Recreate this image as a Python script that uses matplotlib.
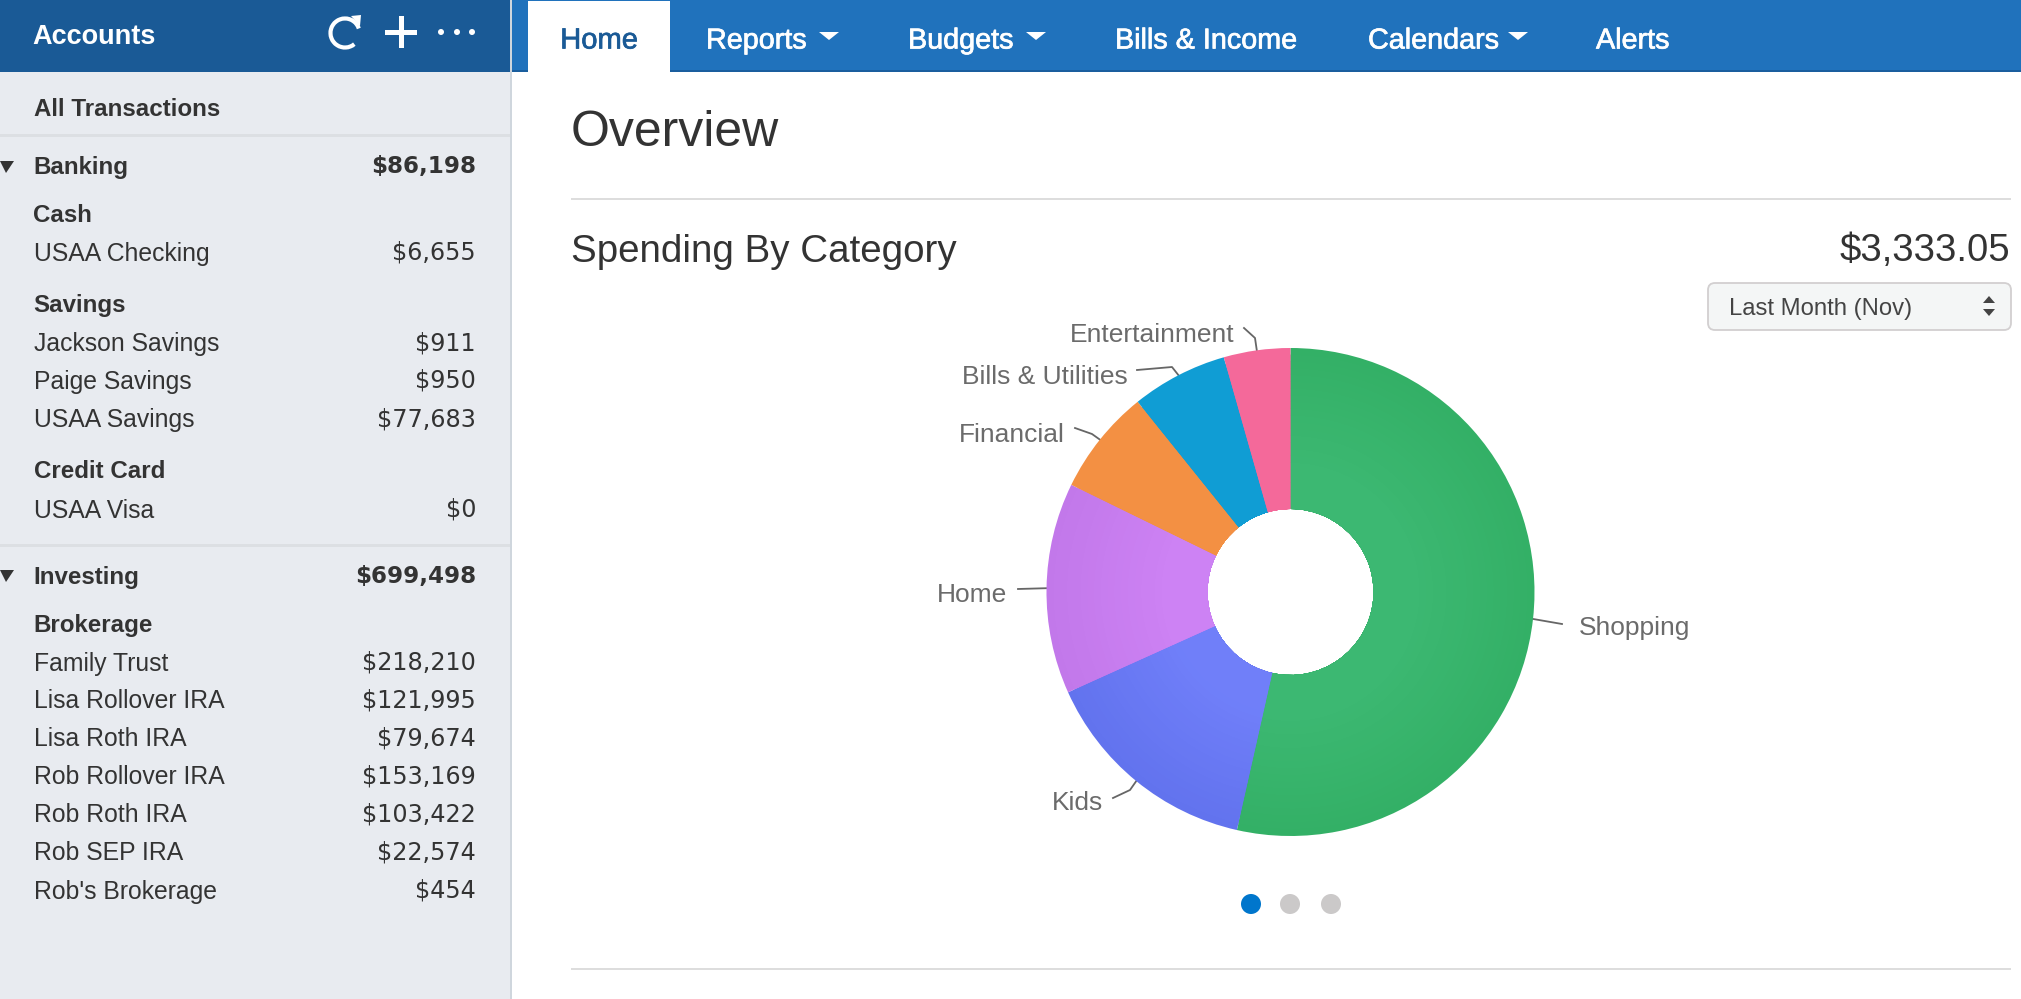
"""Spending overview screen: account sidebar, nav bar and category donut."""
import matplotlib
matplotlib.use('Agg')
import matplotlib.pyplot as plt
import matplotlib.patheffects as pe
import numpy as np
from matplotlib.patches import Rectangle, Polygon, Circle, FancyBboxPatch, Arc

W, H = 2021, 999
plt.rcParams['font.family'] = ['Liberation Sans', 'DejaVu Sans']

# spending data
categories = ['Shopping', 'Kids', 'Home', 'Financial', 'Bills & Utilities', 'Entertainment']
amounts = [1784, 491, 466, 233, 212, 147]
total_label = '$3,333.05'
period_label = 'Last Month (Nov)'

# sidebar rows
row_names = ['All Transactions', 'Banking', 'Cash', 'USAA Checking', 'Savings', 'Jackson Savings',
             'Paige Savings', 'USAA Savings', 'Credit Card', 'USAA Visa', 'Investing', 'Brokerage',
             'Family Trust', 'Lisa Rollover IRA', 'Lisa Roth IRA', 'Rob Rollover IRA', 'Rob Roth IRA',
             'Rob SEP IRA', "Rob's Brokerage"]
row_values = ['', '$86,198', '', '$6,655', '', '$911', '$950', '$77,683', '', '$0', '$699,498', '',
              '$218,210', '$121,995', '$79,674', '$153,169', '$103,422', '$22,574', '$454']
row_bold = [True, True, True, False, True, False, False, False, True, False, True, True,
            False, False, False, False, False, False, False]
row_y = [107, 165, 213, 251, 303, 342, 379, 418, 469, 508, 575, 623, 661, 699, 737, 775, 813, 851, 889]

nav_items = ['Reports', 'Budgets', 'Bills & Income', 'Calendars', 'Alerts']
nav_x = [706, 908, 1115, 1368, 1596]
nav_caret = [829, 1036, None, 1518, None]

# styling
dark_cols = ['#33b066', '#6273ee', '#c278ea', '#f39043', '#109dd4', '#f4699a']
light_cols = ['#3cb872', '#707ff9', '#cd82f4', '#f39043', '#109dd4', '#f4699a']
# label anchor (x, y, ha) and leader bend/end points, in pixels
label_pos = [(1579, 626, 'left'), (1103, 801, 'right'), (1007, 593, 'right'),
             (1065, 433, 'right'), (1128, 375, 'right'), (1234, 333, 'right')]
leader_mid = [None, (1130, 790), None, (1092, 434), (1172, 367), (1255, 338)]
leader_end = [(1562, 624), (1113, 798), (1018, 589), (1075, 428), (1137, 370), (1244, 328)]

CX, CY, R, R_IN = 1290.5, 592, 244, 83
TXT = '#333333'; GREY = '#6b6b6b'
DY = 2.5  # va='center' sits a little high against the original text
medium = [pe.withStroke(linewidth=0.5, foreground='white')]

fig = plt.figure(figsize=(W/100, H/100), dpi=100, facecolor='white')
ui = fig.add_axes([0, 0, 1, 1]); ui.set_xlim(0, W); ui.set_ylim(H, 0); ui.axis('off')

def rect(x0, y0, x1, y1, c, z=1):
    ui.add_patch(Rectangle((x0, y0), x1-x0, y1-y0, facecolor=c, edgecolor='none', zorder=z))

# ------------ backgrounds
rect(0, 0, 510, H, '#e8ebf0')
rect(510, 0, 512, H, '#cfd6dd')
rect(0, 0, 510, 72, '#1a5a96', 2)
rect(512, 0, W, 72, '#2072bc', 2)
rect(512, 70, W, 72, '#1a5e9e', 3)
rect(528, 1, 670, 72, 'white', 4)
rect(0, 134, 510, 137, '#dcdfe3', 2)
rect(0, 544, 510, 547, '#dcdfe3', 2)

# ------------ header
ui.text(32, 34+DY, 'Accounts', color='white', fontsize=19.5, va='center', fontweight='bold', zorder=5)
ui.add_patch(Arc((345, 33), 29, 29, theta1=-310, theta2=-18, color='white', lw=3, zorder=5))
ui.add_patch(Polygon([(351, 16), (361, 15), (360, 26)], facecolor='white', edgecolor='none', zorder=5))
rect(399, 16, 403.5, 48, 'white', 5)
rect(385, 30, 417, 34.5, 'white', 5)
for dx in [441, 457, 472]:
    ui.add_patch(Circle((dx, 32), 3, facecolor='white', edgecolor='none', zorder=5))

# ------------ nav bar
ui.text(599, 38+DY, 'Home', color='#1a5a96', fontsize=21, ha='center', va='center', zorder=5,
        path_effects=[pe.withStroke(linewidth=0.5, foreground='#1a5a96')])
for name, x, cx in zip(nav_items, nav_x, nav_caret):
    ui.text(x, 38+DY, name, color='white', fontsize=20.7, va='center', zorder=5, path_effects=medium)
    if cx is not None:
        ui.add_patch(Polygon([(cx-10, 32), (cx+10, 32), (cx, 40)], facecolor='white', edgecolor='none', zorder=5))

# ------------ sidebar rows, values set wider than the names
for name, val, bold, y in zip(row_names, row_values, row_bold, row_y):
    w = 'bold' if bold else 'normal'
    ui.text(33.5, y+DY, name, color=TXT, fontsize=17.4 if bold else 17.8, fontweight=w, va='center', zorder=5)
    if val:
        ui.text(476, y+DY-1, val, color=TXT, fontsize=16.6 if bold else 17.2, fontweight=w, va='center',
                ha='right', family='DejaVu Sans', zorder=5)
for y in [166, 575]:
    ui.add_patch(Polygon([(0, y-5), (14, y-5), (6, y+7)], facecolor='#333333', edgecolor='none', zorder=5))

# ------------ main heading
ui.text(571, 131+DY, 'Overview', color=TXT, fontsize=36, va='center')
rect(571, 198, 2011, 200, '#dddddd')
ui.text(571, 249+DY, 'Spending By Category', color=TXT, fontsize=27.7, va='center')
ui.text(2010, 249+DY, total_label, color=TXT, fontsize=27.5, va='center', ha='right')
rect(571, 968, 2011, 970, '#dddddd')

# dropdown
ui.add_patch(FancyBboxPatch((1713, 288), 293, 37, boxstyle='round,pad=5,rounding_size=7',
                            facecolor='#f4f6f6', edgecolor='#d2cfd0', lw=1.3))
ui.text(1729, 306+DY, period_label, color='#444444', fontsize=17.2, va='center')
ui.add_patch(Polygon([(1983, 303), (1995, 303), (1989, 296)], facecolor='#444444', edgecolor='none'))
ui.add_patch(Polygon([(1983, 309), (1995, 309), (1989, 316)], facecolor='#444444', edgecolor='none'))

# ------------ donut, rings drawn outer to inner for the soft radial shading
pie_ax = fig.add_axes([(CX-R-2)/W, 1-(CY+R+2)/H, (2*R+4)/W, (2*R+4)/H])
wedges = None
for r in np.linspace(R, R_IN+6, 24):
    t = np.clip((r-R_IN)/(R-R_IN)*1.35-0.35, 0, 1)
    cols = [tuple((1-t)*np.array(matplotlib.colors.to_rgb(l))+t*np.array(matplotlib.colors.to_rgb(d)))
            for d, l in zip(dark_cols, light_cols)]
    w_, _ = pie_ax.pie(amounts, radius=r, colors=cols, startangle=90, counterclock=False,
                       wedgeprops=dict(width=r-R_IN, linewidth=0), frame=False)
    if wedges is None: wedges = w_
pie_ax.set_xlim(-(R+2), R+2); pie_ax.set_ylim(-(R+2), R+2); pie_ax.axis('off')

# labels and leaders, starting from each wedge's mid angle
for w_, name, (lx, ly, ha), mid, end in zip(wedges, categories, label_pos, leader_mid, leader_end):
    a = np.radians((w_.theta1+w_.theta2)/2)
    pts = [(CX+R*np.cos(a), CY-R*np.sin(a))]
    if mid: pts.append(mid)
    pts.append(end)
    ui.plot(*zip(*pts), color='#666666', lw=1.3, zorder=6)
    ui.text(lx, ly+DY, name, color=GREY, fontsize=19, ha=ha, va='center', zorder=6)

# pager dots
for x, c in zip([1251, 1290, 1331], ['#0076cc', '#cbc9c9', '#cbc9c9']):
    ui.add_patch(Circle((x, 904), 10, facecolor=c, edgecolor='none'))

plt.savefig('out.png', dpi=100)
plt.close()
